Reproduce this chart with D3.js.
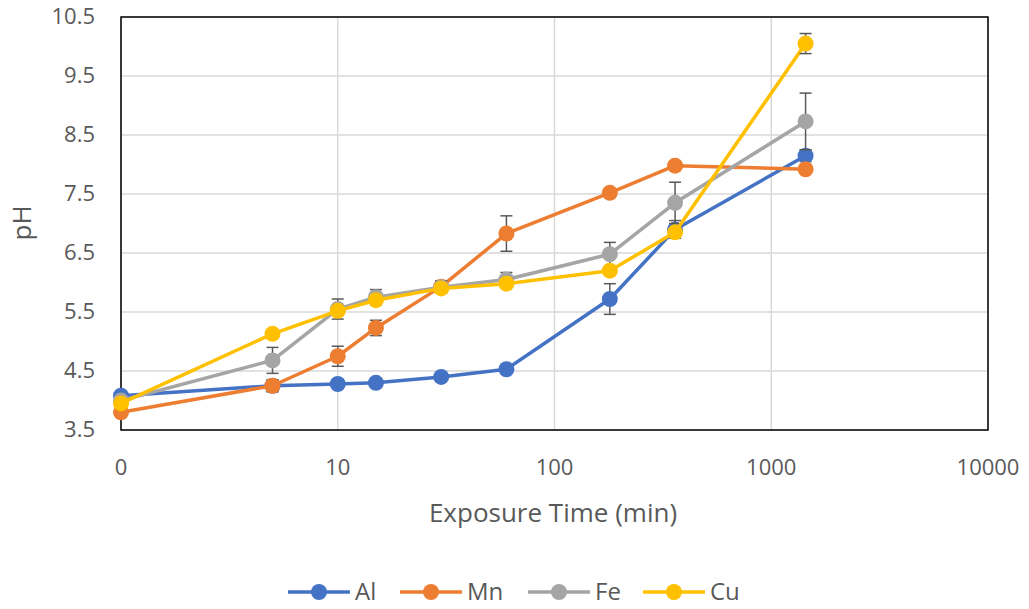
<!DOCTYPE html>
<html>
<head>
<meta charset="utf-8">
<script src="https://cdn.jsdelivr.net/npm/d3@7"></script>
<style>
  body { margin: 0; background: #fff; }
  text { font-family: "Open Sans", "Noto Sans", sans-serif; fill: #595959; }
</style>
</head>
<body>
<svg id="chart" width="1029" height="609"></svg>
<script>
// exposure time in minutes
const times = [1, 5, 10, 15, 30, 60, 180, 360, 1440];
const seriesNames = ['Al', 'Mn', 'Fe', 'Cu'];
const colors = ['#4472C4', '#ED7D31', '#A5A5A5', '#FFC000'];

const alPH = [4.08, 4.25, 4.28, 4.30, 4.40, 4.53, 5.72, 6.90, 8.15];
const mnPH = [3.80, 4.25, 4.75, 5.23, 5.93, 6.83, 7.52, 7.98, 7.92];
const fePH = [4.00, 4.68, 5.55, 5.75, 5.92, 6.05, 6.48, 7.35, 8.73];
const cuPH = [3.95, 5.13, 5.52, 5.70, 5.90, 5.98, 6.20, 6.85, 10.05];

const alErr = [0.05, 0.10, 0.05, 0.05, 0.05, 0.05, 0.26, 0.15, 0.10];
const mnErr = [0.05, 0.10, 0.17, 0.13, 0.10, 0.30, 0.05, 0.05, 0.05];
const feErr = [0.05, 0.22, 0.17, 0.13, 0.10, 0.12, 0.20, 0.35, 0.48];
const cuErr = [0.05, 0.05, 0.05, 0.05, 0.05, 0.05, 0.05, 0.05, 0.17];

const xTicks = [1, 10, 100, 1000, 10000];
const xTickLabels = ['0', '10', '100', '1000', '10000'];
const yTicks = [3.5, 4.5, 5.5, 6.5, 7.5, 8.5, 9.5, 10.5];

const values = [alPH, mnPH, fePH, cuPH];
const errors = [alErr, mnErr, feErr, cuErr];

const svg = d3.select('#chart');
const plotL = 121, plotR = 988, plotT = 17, plotB = 430;

const x = d3.scaleLog().domain([1, 10000]).range([plotL, plotR]);
const y = d3.scaleLinear().domain([3.5, 10.5]).range([plotB, plotT]);

// gridlines
svg.append('g')
  .selectAll('line')
  .data(yTicks)
  .enter().append('line')
  .attr('x1', plotL).attr('x2', plotR)
  .attr('y1', d => y(d)).attr('y2', d => y(d))
  .attr('stroke', '#d9d9d9').attr('stroke-width', 1.5);
svg.append('g')
  .selectAll('line')
  .data(xTicks)
  .enter().append('line')
  .attr('x1', d => x(d)).attr('x2', d => x(d))
  .attr('y1', plotT).attr('y2', plotB)
  .attr('stroke', '#d9d9d9').attr('stroke-width', 1.5);

// frame
svg.append('rect')
  .attr('x', plotL).attr('y', plotT)
  .attr('width', plotR - plotL).attr('height', plotB - plotT)
  .attr('fill', 'none').attr('stroke', '#000').attr('stroke-width', 1.5);

// tick labels
svg.append('g')
  .selectAll('text')
  .data(yTicks)
  .enter().append('text')
  .attr('x', 95).attr('y', d => y(d) - 1)
  .attr('dy', '0.35em')
  .attr('text-anchor', 'end')
  .attr('font-size', 22)
  .text(d => d.toFixed(1));
svg.append('g')
  .selectAll('text')
  .data(xTicks)
  .enter().append('text')
  .attr('x', d => x(d)).attr('y', 475)
  .attr('text-anchor', 'middle')
  .attr('font-size', 22)
  .text((d, i) => xTickLabels[i]);

// axis titles
svg.append('text')
  .attr('x', 553).attr('y', 522)
  .attr('text-anchor', 'middle')
  .attr('font-size', 26)
  .text('Exposure Time (min)');
svg.append('text')
  .attr('transform', 'translate(31,223) rotate(-90)')
  .attr('text-anchor', 'middle')
  .attr('font-size', 26)
  .text('pH');

const line = d3.line()
  .x((d, i) => x(times[i]))
  .y(d => y(d));

seriesNames.forEach((name, s) => {
  const g = svg.append('g');
  g.append('path')
    .attr('d', line(values[s]))
    .attr('fill', 'none')
    .attr('stroke', colors[s])
    .attr('stroke-width', 3.5)
    .attr('stroke-linejoin', 'round');

  const eb = g.selectAll('g.err')
    .data(values[s])
    .enter().append('g')
    .attr('class', 'err')
    .attr('stroke', '#595959').attr('stroke-width', 1.5);
  eb.append('line')
    .attr('x1', (d, i) => x(times[i])).attr('x2', (d, i) => x(times[i]))
    .attr('y1', (d, i) => y(d + errors[s][i])).attr('y2', (d, i) => y(d - errors[s][i]));
  eb.append('line')
    .attr('x1', (d, i) => x(times[i]) - 6).attr('x2', (d, i) => x(times[i]) + 6)
    .attr('y1', (d, i) => y(d + errors[s][i])).attr('y2', (d, i) => y(d + errors[s][i]));
  eb.append('line')
    .attr('x1', (d, i) => x(times[i]) - 6).attr('x2', (d, i) => x(times[i]) + 6)
    .attr('y1', (d, i) => y(d - errors[s][i])).attr('y2', (d, i) => y(d - errors[s][i]));

  g.selectAll('circle')
    .data(values[s])
    .enter().append('circle')
    .attr('cx', (d, i) => x(times[i]))
    .attr('cy', d => y(d))
    .attr('r', 8)
    .attr('fill', colors[s]);
});

// legend
const legendX = [288, 400, 528, 643];
const leg = svg.append('g')
  .selectAll('g')
  .data(seriesNames)
  .enter().append('g')
  .attr('transform', (d, i) => `translate(${legendX[i]},592)`);
leg.append('line')
  .attr('x1', 0).attr('x2', 62)
  .attr('stroke', (d, i) => colors[i]).attr('stroke-width', 3.5);
leg.append('circle')
  .attr('cx', 31).attr('r', 8)
  .attr('fill', (d, i) => colors[i]);
leg.append('text')
  .attr('x', 67).attr('dy', '0.35em')
  .attr('font-size', 24)
  .text(d => d);
</script>
</body>
</html>
